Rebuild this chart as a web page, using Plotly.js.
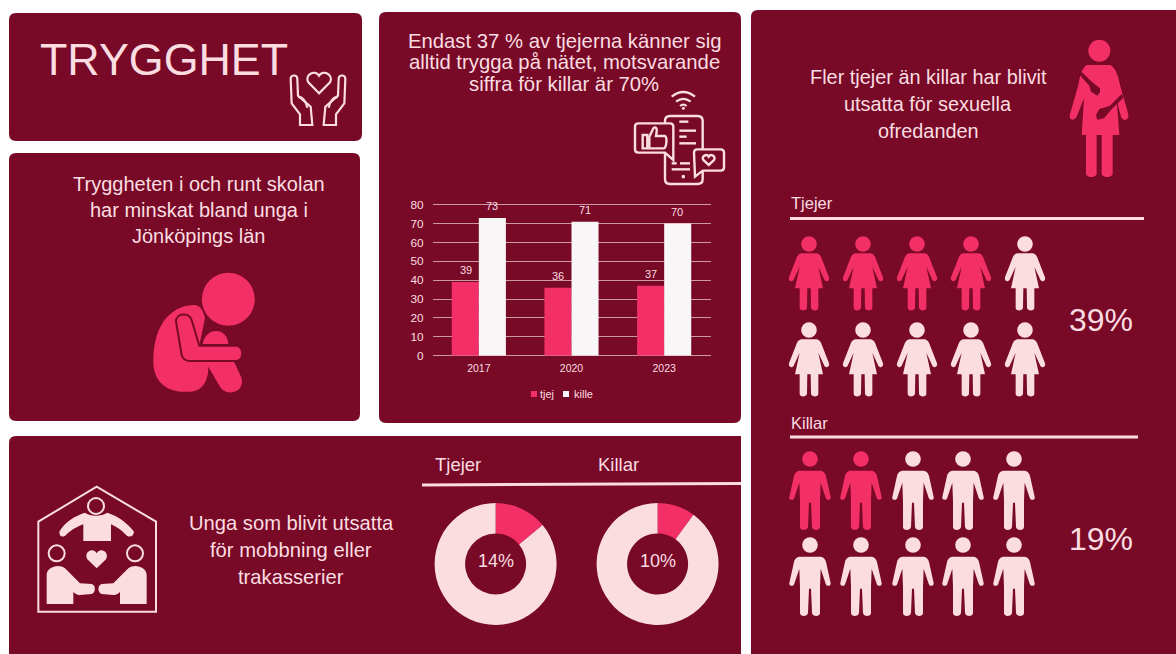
<!DOCTYPE html>
<html><head><meta charset="utf-8">
<script src="https://cdn.plot.ly/plotly-3.0.1.min.js"></script>
<style>html,body{margin:0;padding:0;background:#fff;overflow:hidden}#c{width:1176px;height:654px}</style>
</head><body><div id="c"></div>
<script>
// ---- data ----
const years = ['2017', '2020', '2023'];
const tjej = [39, 36, 37];
const kille = [73, 71, 70];
const mobbningTjejer = [14, 86];
const mobbningKillar = [10, 90];
const ofredandenTjejerFilled = 4;
const ofredandenKillarFilled = 2;
const ofredandenTotal = 10;
const seriesNames = ['tjej', 'kille'];

// ---- palette ----
const CARD = '#780927', PINK = '#f22f66', LIGHT = '#fbdde1', WHITE = '#f8f6f6', GRID = '#cb97a5';
const FONT = '"Liberation Sans", Arial, sans-serif';
const W = 1176, H = 654;
const fx = x => x / W, fy = y => 1 - y / H;

// convert a pixel path (commands with x y pairs) to paper fractions
function P(d, ox = 0, oy = 0, s = 1, mirror = null) {
  return d.replace(/([MLCQ])([^MLCQZ]*)/g, (m, c, args) => {
    const n = args.trim().split(/[\s,]+/).map(Number);
    const out = [];
    for (let i = 0; i < n.length; i += 2) {
      const xx = mirror === null ? n[i] : mirror - n[i];
      out.push(fx(ox + xx * s).toFixed(5), fy(oy + n[i + 1] * s).toFixed(5));
    }
    return c + out.join(' ') + ' ';
  });
}
const shapes = [];
function fill(d, color, ox, oy, s, mirror, line) {
  shapes.push({type: 'path', xref: 'paper', yref: 'paper', layer: 'below', path: P(d, ox, oy, s, mirror),
    fillcolor: color, line: line || {width: 0}});
}
function stroke(d, color, w, ox, oy, s, mirror) {
  shapes.push({type: 'path', xref: 'paper', yref: 'paper', layer: 'below', path: P(d, ox, oy, s, mirror),
    fillcolor: 'rgba(0,0,0,0)', line: {color: color, width: w}});
}
function circle(cx, cy, r, color, line) {
  shapes.push({type: 'circle', xref: 'paper', yref: 'paper', layer: 'below',
    x0: fx(cx - r), x1: fx(cx + r), y0: fy(cy + r), y1: fy(cy - r),
    fillcolor: color, line: line || {width: 0}});
}
function card(x0, y0, x1, y1, r, sq) {
  const b = sq
    ? `M${x0} ${y0 + r} Q${x0} ${y0} ${x0 + r} ${y0} L${x1} ${y0} L${x1} ${y1} L${x0} ${y1} Z`
    : `M${x0} ${y0 + r} Q${x0} ${y0} ${x0 + r} ${y0} L${x1 - r} ${y0} Q${x1} ${y0} ${x1} ${y0 + r} L${x1} ${y1 - r} Q${x1} ${y1} ${x1 - r} ${y1} L${x0 + r} ${y1} Q${x0} ${y1} ${x0} ${y1 - r} Z`;
  fill(b, CARD);
}
function hr(x0, y0, x1, y1, w) {
  shapes.push({type: 'line', xref: 'paper', yref: 'paper', layer: 'below', x0: fx(x0), x1: fx(x1), y0: fy(y0), y1: fy(y1),
    line: {color: LIGHT, width: w}});
}
const annotations = [];
function label(text, x, y, size, anchor = 'center', color = LIGHT) {
  annotations.push({xref: 'paper', yref: 'paper', x: fx(x), y: fy(y), text: text, showarrow: false,
    xanchor: anchor, yanchor: 'middle', borderpad: 0, font: {family: FONT, size: size, color: color}});
}

// ---- cards ----
card(9, 13, 362, 141, 7);
card(9, 153, 360, 421, 7);
card(379, 12, 741, 423, 7);
card(9, 436, 741, 654, 7, true);
card(751, 10, 1176, 654, 7, true);

// ---- text ----
label('TRYGGHET', 39, 59, 44.8, 'left');
['Tryggheten i och runt skolan', 'har minskat bland unga i', 'Jönköpings län'].forEach((t, i) => label(t, 198.5, 184 + i * 26, 20));
['Endast 37 % av tjejerna känner sig', 'alltid trygga på nätet, motsvarande', 'siffra för killar är 70%'].forEach((t, i) => label(t, 564, 40.5 + i * 21.5, 20.3));
['Fler tjejer än killar har blivit', 'utsatta för sexuella', 'ofredanden'].forEach((t, i) => label(t, 928, 77 + i * 27, 19.9));
['Unga som blivit utsatta', 'för mobbning eller', 'trakasserier'].forEach((t, i) => label(t, 291, 523 + i * 27, 20.2));
label('Tjejer', 458, 464, 18.5);
label('Killar', 618, 464, 18.5);
label('14%', 495.6, 561, 18);
label('10%', 657.6, 561, 18);
label('Tjejer', 790, 203, 16.5, 'left');
label('Killar', 790, 423, 16.5, 'left');
label('39%', 1101, 320, 32);
label('19%', 1101, 539, 32);
hr(422, 485, 741, 483.5, 3);
hr(790, 218.5, 1144, 218.5, 3);
hr(790, 437, 1138, 437, 3);

// ---- pictograms ----
const FEMALE = 'M-22 52 L22 52 C28 52 32 56 36 62 L60 124 C63 134 52 140 46 131 L28 92 L42 157 L28 157 L28 215 C28 226 8 226 6 215 L5 157 L-5 157 L-6 215 C-8 226 -28 226 -28 215 L-28 157 L-42 157 L-28 92 L-46 131 C-52 140 -63 134 -60 124 L-36 62 C-32 56 -28 52 -22 52 Z';
const MALE = 'M-32 59 L32 59 C42 60 46 68 48 75 L62 138 C64 148 50 150 47 140 L32 95 L30 150 L30 228 C30 240 8 240 6 228 L3 155 L-3 155 L-6 228 C-8 240 -30 240 -30 228 L-30 150 L-32 95 L-47 140 C-50 150 -64 148 -62 138 L-48 75 C-46 68 -42 60 -32 59 Z';
function people(path, xs, tops, filled) {
  let n = 0;
  tops.forEach(top => xs.forEach(x => {
    const col = n < filled ? PINK : LIGHT;
    circle(x, top + 8, 7.8, col);
    fill(path, col, x, top, 1 / 3);
    n++;
  }));
}
people(FEMALE, [809, 863, 917, 971, 1025], [236, 322], ofredandenTjejerFilled);
people(MALE, [810, 861, 913, 963, 1014], [451, 537], ofredandenKillarFilled);

// ---- big woman icon ----
const a = [1060, 35, 1 / 3];
circle(1060 + 118 / 3, 35 + 47 / 3, 11, PINK);
fill('M80 90 L150 90 C165 95 175 120 180 150 L205 238 C208 255 190 262 183 245 L170 195 L178 300 L158 300 L158 415 C158 430 125 430 125 415 L125 300 L110 300 L110 415 C110 430 78 430 78 415 L78 300 L65 300 L72 190 L50 245 C42 260 25 255 30 238 L55 150 C60 120 65 100 80 90 Z', PINK, ...a);
fill('M62 108 L96 141 L120 160 L120 172 L112 182 L93 170 L88 152 L59 120 Z', CARD, ...a);
fill('M186 176 L150 212 L118 222 L108 240 L112 254 L132 250 L152 226 L190 188 Z', CARD, ...a);

// ---- sitting figure ----
const b = [140, 265, 1 / 3];
const darkLine = {color: CARD, width: 2};
circle(140 + 265 / 3, 265 + 103 / 3, 26.5, PINK);
fill('M165 120 C100 120 40 170 40 290 C40 350 80 385 150 380 C190 378 205 345 205 305 L240 365 C258 395 315 385 305 340 L280 285 L178 240 L195 160 C190 135 180 122 165 120 Z', PINK, ...b);
fill('M185 240 C190 180 268 180 268 240 Z', PINK, ...b, null, darkLine);
fill('M108 170 C108 145 145 140 155 165 L178 242 L290 242 C312 245 312 285 290 288 L150 288 C135 288 128 280 125 270 Z', PINK, ...b, null, darkLine);

// ---- hands and heart ----
const c = [280, 65, 1 / 3];
stroke('M117 85 L85 52 C72 30 105 12 117 32 C130 12 162 30 150 52 Z', LIGHT, 2.2, ...c);
[null, 228].forEach(m => {
  stroke('M60 180 L60 148 L35 115 L32 42 C32 28 52 28 52 42 L54 92 L92 125 L97 180 Z', LIGHT, 2.2, ...c, m);
  stroke('M55 98 C65 92 78 108 82 128', LIGHT, 2.2, ...c, m);
});

// ---- house ----
const d = [30, 480, 1 / 3];
stroke('M25 125 L200 20 L378 125 L378 395 L25 395 Z', LIGHT, 2, ...d);
circle(30 + 198 / 3, 480 + 78 / 3, 8, CARD, {color: LIGHT, width: 2});
fill('M88 155 C105 125 135 108 165 98 C180 110 215 110 232 98 C262 108 292 128 312 155 C310 172 295 174 285 162 C275 150 255 138 243 133 L243 183 L160 183 L160 133 C145 138 120 152 108 165 C98 174 88 170 88 155 Z', LIGHT, ...d);
circle(30 + 80 / 3, 480 + 220 / 3, 8, CARD, {color: LIGHT, width: 2});
circle(30 + 315 / 3, 480 + 220 / 3, 8, CARD, {color: LIGHT, width: 2});
[null, 400].forEach(m => fill('M50 285 C50 262 85 250 105 265 L150 310 L185 312 C198 315 198 338 185 342 L150 345 C140 345 132 338 130 335 L130 372 L50 372 Z', LIGHT, ...d, m));
fill('M200 265 L172 238 C160 215 190 200 200 220 C210 200 240 215 228 238 Z', LIGHT, ...d);

// ---- phone icon ----
const e = [620, 80, 1 / 3];
['M155 50 Q190 22 225 50', 'M168 65 Q190 48 212 65', 'M180 78 Q190 70 200 78'].forEach(p => stroke(p, LIGHT, 2.2, ...e));
circle(620 + 190 / 3, 80 + 85 / 3, 1.5, LIGHT);
stroke('M150 108 L233 108 C243 108 248 113 248 123 L248 297 C248 307 243 312 233 312 L150 312 C140 312 135 307 135 297 L135 123 C135 113 140 108 150 108 Z', LIGHT, 2.4, ...e);
['M178 125 L205 125', 'M178 152 L228 152', 'M178 170 L200 170', 'M178 190 L228 190', 'M155 250 L170 250', 'M180 250 L210 250', 'M155 268 L210 268'].forEach(p => stroke(p, LIGHT, 2.4, ...e));
circle(620 + 190 / 3, 80 + 290 / 3, 1.8, LIGHT);
fill('M55 130 L150 130 C157 130 160 133 160 140 L160 240 L135 218 L55 218 C48 218 45 215 45 208 L45 140 C45 133 48 130 55 130 Z', CARD, ...e, null, {color: LIGHT, width: 2.4});
stroke('M68 165 L82 165 L82 205 L68 205 Z', LIGHT, 2.4, ...e);
stroke('M88 170 L100 145 C106 138 112 145 110 155 L108 168 L135 168 C142 172 140 200 132 205 L88 205 Z', LIGHT, 2.4, ...e);
fill('M232 208 L302 208 C309 208 312 211 312 218 L312 262 C312 269 309 272 302 272 L248 272 L225 290 L222 218 C222 211 225 208 232 208 Z', CARD, ...e, null, {color: LIGHT, width: 2.4});
stroke('M266 255 L250 240 C243 228 260 220 266 230 C272 220 289 228 282 240 Z', LIGHT, 2.4, ...e);

// ---- legend (small squares, tight spacing) ----
shapes.push({type: 'rect', xref: 'paper', yref: 'paper', layer: 'below', x0: fx(531), x1: fx(537), y0: fy(397), y1: fy(391), fillcolor: PINK, line: {width: 0}});
shapes.push({type: 'rect', xref: 'paper', yref: 'paper', layer: 'below', x0: fx(563), x1: fx(569), y0: fy(397), y1: fy(391), fillcolor: WHITE, line: {width: 0}});
label(seriesNames[0], 539, 394, 11, 'left');
label(seriesNames[1], 573, 394, 11, 'left');

// ---- bar value labels, placed by the data scales (x = category index) ----
const BAR_OFFSET = 13.3;
[[tjej, -BAR_OFFSET], [kille, BAR_OFFSET]].forEach(([vals, dx]) => vals.forEach((v, i) => {
  annotations.push({xref: 'x', yref: 'y', x: i, y: v, text: String(v), showarrow: false, xshift: dx, yshift: 12,
    xanchor: 'center', yanchor: 'middle', borderpad: 0, font: {family: FONT, size: 11, color: LIGHT}});
}));

// ---- traces ----
const traces = [
  {type: 'bar', name: seriesNames[0], x: years, y: tjej, cliponaxis: false, marker: {color: PINK}, hoverinfo: 'skip'},
  {type: 'bar', name: seriesNames[1], x: years, y: kille, cliponaxis: false, marker: {color: WHITE}, hoverinfo: 'skip'},
  {type: 'pie', values: mobbningTjejer, labels: ['Ja', 'Nej'], hole: 0.5, sort: false, direction: 'clockwise', rotation: 0,
    textinfo: 'none', hoverinfo: 'skip', showlegend: false, marker: {colors: [PINK, LIGHT]},
    domain: {x: [fx(434.6), fx(556.6)], y: [fy(625), fy(503)]}},
  {type: 'pie', values: mobbningKillar, labels: ['Ja', 'Nej'], hole: 0.5, sort: false, direction: 'clockwise', rotation: 0,
    textinfo: 'none', hoverinfo: 'skip', showlegend: false, marker: {colors: [PINK, LIGHT]},
    domain: {x: [fx(596.6), fx(718.6)], y: [fy(625), fy(503)]}}
];
const layout = {
  width: W, height: H, margin: {l: 0, r: 0, t: 0, b: 0}, autosize: false,
  paper_bgcolor: '#ffffff', plot_bgcolor: 'rgba(0,0,0,0)', showlegend: false,
  barmode: 'group', bargap: 0.416, bargroupgap: 0,
  xaxis: {domain: [fx(432.5), fx(710.5)], type: 'category', categoryorder: 'array', categoryarray: years, range: [-0.5, 2.5],
    tickfont: {family: FONT, size: 10.5, color: LIGHT},
    ticks: '', showgrid: false, showline: false, zeroline: false, ticklabelstandoff: 5},
  yaxis: {domain: [fy(355.7), fy(202.8)], range: [0, 81], tickvals: [0, 10, 20, 30, 40, 50, 60, 70, 80],
    tickfont: {family: FONT, size: 11.8, color: LIGHT}, ticks: '', gridcolor: GRID, gridwidth: 1,
    zeroline: true, zerolinecolor: GRID, zerolinewidth: 1, showline: false, ticklabelstandoff: 8},
  shapes: shapes, annotations: annotations, font: {family: FONT, color: LIGHT}
};
Plotly.newPlot('c', traces, layout, {displayModeBar: false, staticPlot: true});
</script></body></html>
